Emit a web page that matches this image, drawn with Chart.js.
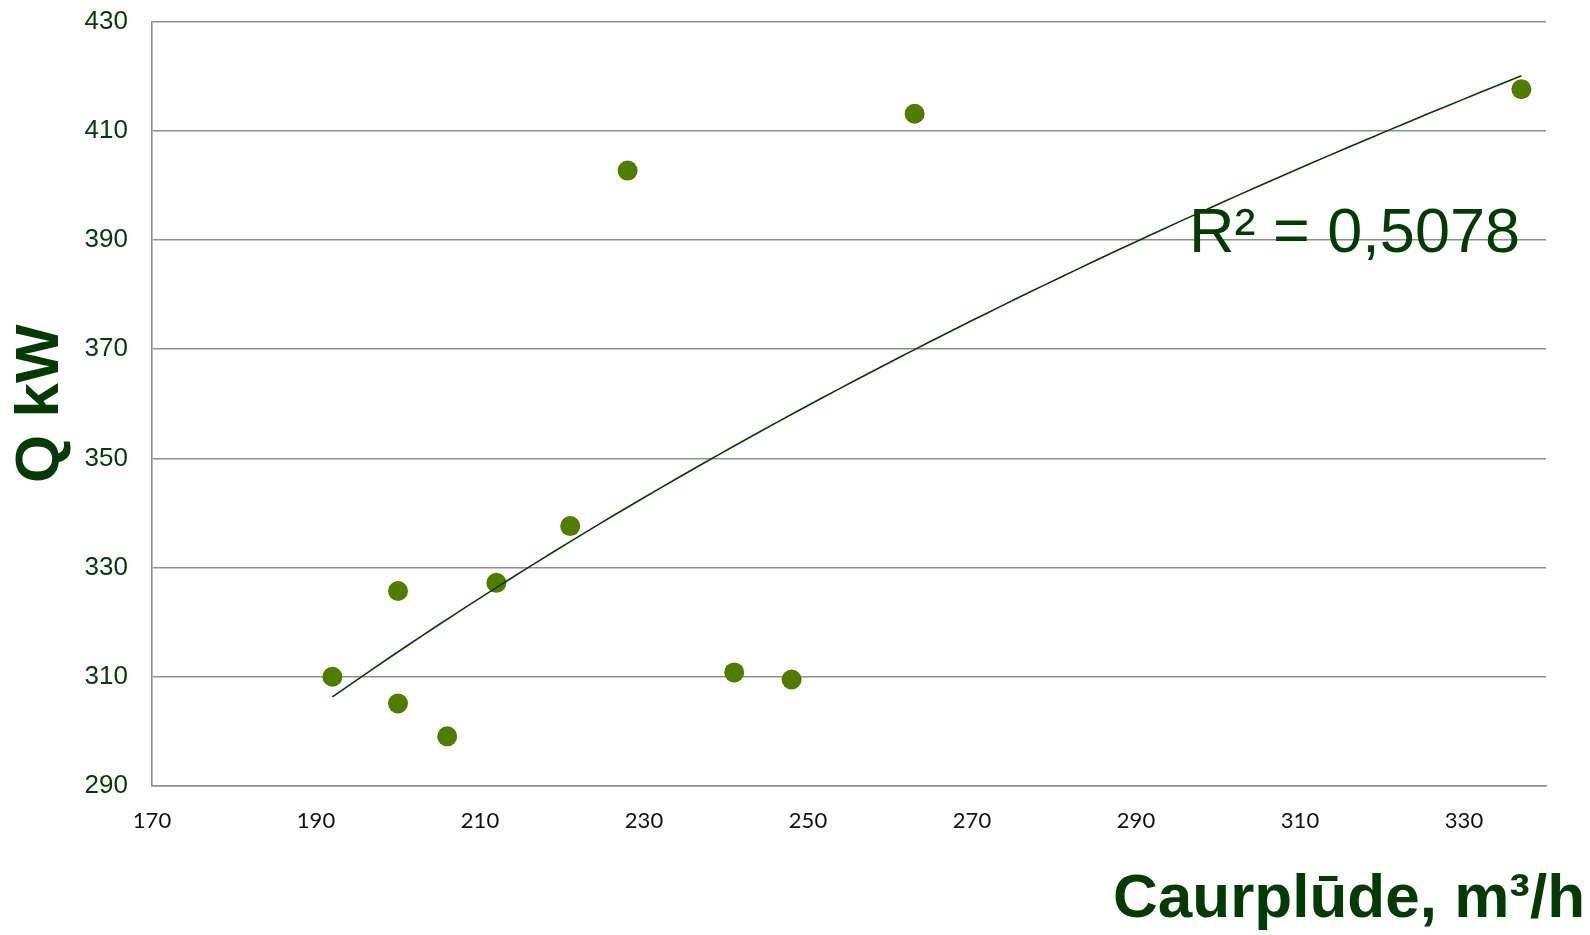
<!DOCTYPE html>
<html>
<head>
<meta charset="utf-8">
<title>Q kW / Caurplūde</title>
<script src="https://cdn.jsdelivr.net/npm/chart.js@4/dist/chart.umd.min.js"></script>
<style>
  body { margin: 0; background: #fff; }
  #chart { display: block; }
</style>
</head>
<body>
<canvas id="chart" width="1590" height="935"></canvas>
<script>
// Measured flow (m3/h) and heat output (kW)
const flowValues = [192, 200, 200, 206, 212, 221, 228, 241, 248, 263, 337];
const powerValues = [310, 325.7, 305.1, 299.1, 327.2, 337.6, 402.7, 310.8, 309.5, 413.1, 417.6];

const xTicks = [170, 190, 210, 230, 250, 270, 290, 310, 330];
const yTicks = [290, 310, 330, 350, 370, 390, 410, 430];

const xTitle = 'Caurplūde, m³/h';
const yTitle = 'Q kW';
const rSquaredLabel = 'R² = 0,5078';

const darkGreen = '#053a07';
const pointGreen = '#527c00';
const gridGray = '#8c918c';

// Logarithmic trend y = a + b*ln(x), least squares over the points
function logFit(xs, ys) {
  const n = xs.length;
  const lx = xs.map(v => Math.log(v));
  const mx = lx.reduce((s, v) => s + v, 0) / n;
  const my = ys.reduce((s, v) => s + v, 0) / n;
  let sxy = 0, sxx = 0;
  lx.forEach((v, i) => {
    sxy += (v - mx) * (ys[i] - my);
    sxx += (v - mx) * (v - mx);
  });
  const b = sxy / sxx;
  return { a: my - b * mx, b: b };
}

const fit = logFit(flowValues, powerValues);
const xMin = Math.min(...flowValues);
const xMax = Math.max(...flowValues);
const trendPoints = [];
for (let i = 0; i <= 80; i++) {
  const x = xMin + (xMax - xMin) * i / 80;
  trendPoints.push({ x: x, y: fit.a + fit.b * Math.log(x) });
}

const scatterPoints = flowValues.map((x, i) => ({ x: x, y: powerValues[i] }));

// Axis titles and the R² note
const annotations = {
  id: 'annotations',
  afterDraw(chart) {
    const ctx = chart.ctx;
    const area = chart.chartArea;
    ctx.save();
    ctx.fillStyle = darkGreen;

    ctx.font = '63px "Liberation Sans", Arial, sans-serif';
    ctx.textAlign = 'right';
    ctx.textBaseline = 'alphabetic';
    ctx.fillText(rSquaredLabel, area.right - 26, 252);

    ctx.font = 'bold 62px "Liberation Sans", Arial, sans-serif';
    ctx.textAlign = 'right';
    ctx.textBaseline = 'middle';
    ctx.fillText(xTitle, 1585, 900);

    ctx.translate(41, (area.top + area.bottom) / 2);
    ctx.rotate(-Math.PI / 2);
    ctx.textAlign = 'center';
    ctx.fillText(yTitle, 0, 0);
    ctx.restore();
  }
};

new Chart(document.getElementById('chart'), {
  type: 'scatter',
  data: {
    datasets: [
      {
        label: 'Trend',
        data: trendPoints,
        showLine: true,
        borderColor: darkGreen,
        borderWidth: 1.6,
        pointRadius: 0,
        fill: false,
        order: 0
      },
      {
        label: 'Q',
        data: scatterPoints,
        backgroundColor: pointGreen,
        borderWidth: 0,
        pointRadius: 10,
        order: 1
      }
    ]
  },
  options: {
    responsive: false,
    animation: false,
    devicePixelRatio: 1,
    layout: { padding: { top: 21.5, right: 44, left: 0, bottom: 0 } },
    plugins: {
      legend: { display: false },
      tooltip: { enabled: false }
    },
    scales: {
      x: {
        type: 'linear',
        min: 170,
        max: 340,
        afterBuildTicks: scale => { scale.ticks = xTicks.map(v => ({ value: v })); },
        afterFit: scale => { scale.height = 149; },
        grid: { display: false, drawTicks: false },
        border: { display: true, color: gridGray, width: 1.6 },
        ticks: {
          padding: 22,
          color: '#111',
          font: { family: 'Lato', size: 22 }
        }
      },
      y: {
        type: 'linear',
        min: 290,
        max: 430,
        afterBuildTicks: scale => { scale.ticks = yTicks.map(v => ({ value: v })); },
        afterFit: scale => {
          scale.width = 152;
          // the label padding would otherwise push the plot top down
          scale.paddingTop = 0;
          scale.paddingBottom = 0;
        },
        grid: { color: gridGray, lineWidth: 1.6, drawTicks: false },
        border: { display: true, color: gridGray, width: 1.6 },
        ticks: {
          padding: 24,
          color: darkGreen,
          font: { family: '"Liberation Sans"', size: 26 }
        }
      }
    }
  },
  plugins: [annotations]
});
</script>
</body>
</html>
